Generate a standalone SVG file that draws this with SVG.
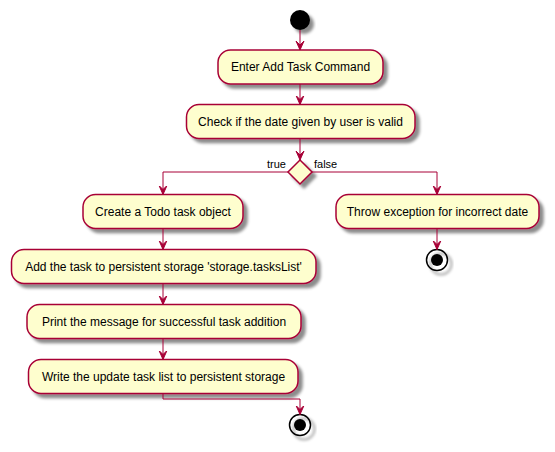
<svg xmlns="http://www.w3.org/2000/svg" width="555" height="452" viewBox="0 0 555 452">
<defs>
<filter id="sh" x="-20%" y="-20%" width="150%" height="160%">
<feGaussianBlur in="SourceAlpha" stdDeviation="1.7"/>
<feColorMatrix type="matrix" values="0 0 0 0 0  0 0 0 0 0  0 0 0 0 0  0 0 0 0.45 0"/>
<feOffset dx="4" dy="4" result="b"/>
<feMerge><feMergeNode in="b"/><feMergeNode in="SourceGraphic"/></feMerge>
</filter>
<marker id="ah" markerWidth="10" markerHeight="12" refX="9" refY="5" orient="auto" markerUnits="userSpaceOnUse" viewBox="0 0 10 10">
<path d="M0,1 L9,5 L0,9 L4,5 Z" fill="#A80036" stroke="#A80036" stroke-width="1"/>
</marker>
</defs>
<style>
.box{fill:#FEFECE;stroke:#A80036;stroke-width:1.5;filter:url(#sh)}
.t{font-family:"Liberation Sans",Arial,sans-serif;font-size:12px;fill:#000;text-anchor:middle}
.l{font-family:"Liberation Sans",Arial,sans-serif;font-size:11px;fill:#000}
.c{fill:none;stroke:#A80036;stroke-width:1;marker-end:url(#ah)}
</style>
<g id="start"><circle cx="300" cy="20" r="10" fill="#000" filter="url(#sh)"/></g>
<g id="n1"><rect class="box" x="218" y="50" width="165" height="34" rx="12.5"/><text class="t" x="300.5" y="71">Enter Add Task Command</text></g>
<g id="n2"><rect class="box" x="186.5" y="104.5" width="228.5" height="34" rx="12.5"/><text class="t" x="300.5" y="125.5">Check if the date given by user is valid</text></g>
<g id="dec"><polygon class="box" points="300,160 312,172 300,184 288,172"/><text class="l" x="267" y="168">true</text><text class="l" x="314" y="168">false</text></g>
<g id="n3"><rect class="box" x="83" y="194.5" width="160" height="34" rx="12.5"/><text class="t" x="163" y="216">Create a Todo task object</text></g>
<g id="n4"><rect class="box" x="336" y="194.5" width="203" height="34" rx="12.5"/><text class="t" x="437.5" y="216">Throw exception for incorrect date</text></g>
<g id="stop1"><circle cx="437" cy="260" r="10.5" fill="none" stroke="#000" stroke-width="1.5" filter="url(#sh)"/><circle cx="437" cy="260" r="6" fill="#000"/></g>
<g id="n5"><rect class="box" x="11.5" y="249.5" width="304.5" height="34" rx="12.5"/><text class="t" x="163.5" y="271">Add the task to persistent storage 'storage.tasksList'</text></g>
<g id="n6"><rect class="box" x="27" y="304.5" width="274" height="34" rx="12.5"/><text class="t" x="164" y="326">Print the message for successful task addition</text></g>
<g id="n7"><rect class="box" x="28.5" y="359.5" width="269.5" height="34" rx="12.5"/><text class="t" x="163.5" y="381">Write the update task list to persistent storage</text></g>
<g id="stop2"><circle cx="300" cy="425" r="10.5" fill="none" stroke="#000" stroke-width="1.5" filter="url(#sh)"/><circle cx="300" cy="425" r="6" fill="#000"/></g>
<g id="connectors">
<path class="c" d="M300,30 V50"/>
<path class="c" d="M300,84 V104.5"/>
<path class="c" d="M300,138.5 V160"/>
<path class="c" d="M288,172 H163 V194.5"/>
<path class="c" d="M312,172 H437 V194.5"/>
<path class="c" d="M437,228.5 V249.5"/>
<path class="c" d="M163,228.5 V249.5"/>
<path class="c" d="M163,283.5 V304.5"/>
<path class="c" d="M163,338.5 V359.5"/>
<path class="c" d="M163,393.5 V399 H300 V414.5"/>
</g>
</svg>
